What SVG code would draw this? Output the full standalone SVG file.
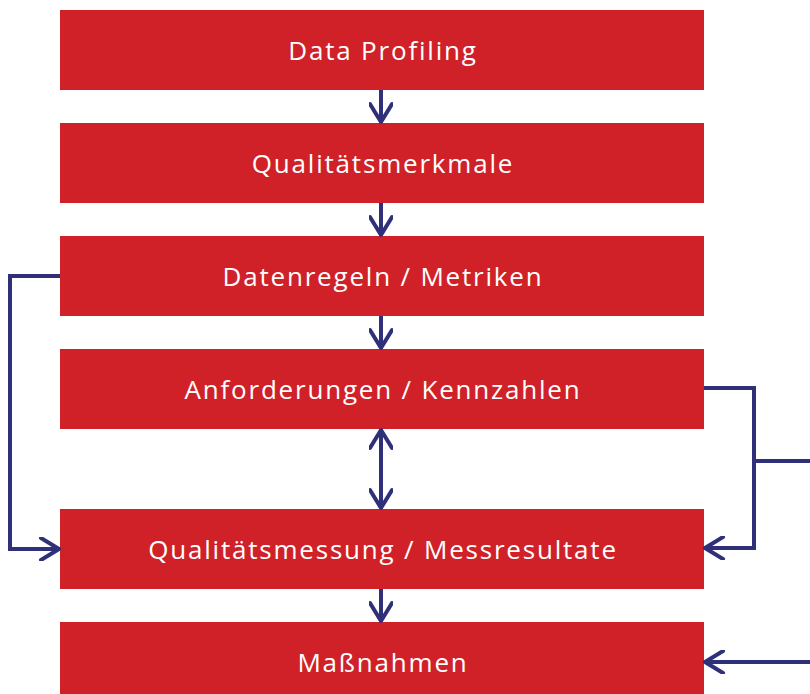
<svg xmlns="http://www.w3.org/2000/svg" width="810" height="694" viewBox="0 0 810 694">
<style>
.box{fill:#D12128}
.lbl{fill:#fff;font-family:"Open Sans",Lato,sans-serif;font-size:26px;letter-spacing:1.8px;text-anchor:middle}
.ln{fill:none;stroke:#2F2F7A;stroke-width:4;stroke-linejoin:miter}
</style>
<defs>
<marker id="ah" viewBox="0 0 24 24" refX="21" refY="12" markerWidth="24" markerHeight="24" markerUnits="userSpaceOnUse" orient="auto-start-reverse">
<path d="M3,1 L21,12 L3,23" fill="none" stroke="#2F2F7A" stroke-width="4" stroke-linecap="round" stroke-linejoin="round"/>
</marker>
</defs>
<rect width="810" height="694" fill="#fff"/>
<g id="n1"><rect class="box" x="60" y="10" width="644" height="80"/><text class="lbl" x="383" y="60">Data Profiling</text></g>
<g id="n2"><rect class="box" x="60" y="123" width="644" height="80"/><text class="lbl" x="383" y="173">Qualitätsmerkmale</text></g>
<g id="n3"><rect class="box" x="60" y="236" width="644" height="80"/><text class="lbl" x="383" y="286">Datenregeln / Metriken</text></g>
<g id="n4"><rect class="box" x="60" y="349" width="644" height="80"/><text class="lbl" x="383" y="399">Anforderungen / Kennzahlen</text></g>
<g id="n5"><rect class="box" x="60" y="509" width="644" height="80"/><text class="lbl" x="383" y="559">Qualitätsmessung / Messresultate</text></g>
<g id="n6"><rect class="box" x="60" y="622" width="644" height="80"/><text class="lbl" x="383" y="672">Maßnahmen</text></g>
<g id="connectors">
<path class="ln" d="M381,90 V122" marker-end="url(#ah)"/>
<path class="ln" d="M381,203 V235" marker-end="url(#ah)"/>
<path class="ln" d="M381,316 V348" marker-end="url(#ah)"/>
<path class="ln" d="M381,430 V508" marker-start="url(#ah)" marker-end="url(#ah)"/>
<path class="ln" d="M381,589 V621" marker-end="url(#ah)"/>
<path class="ln" d="M60,276 H10 V549 H59" marker-end="url(#ah)"/>
<path class="ln" d="M704,388 H754 V548 H705" marker-end="url(#ah)"/>
<path class="ln" d="M754,461 H810"/>
<path class="ln" d="M810,662 H705" marker-end="url(#ah)"/>
</g>
</svg>
